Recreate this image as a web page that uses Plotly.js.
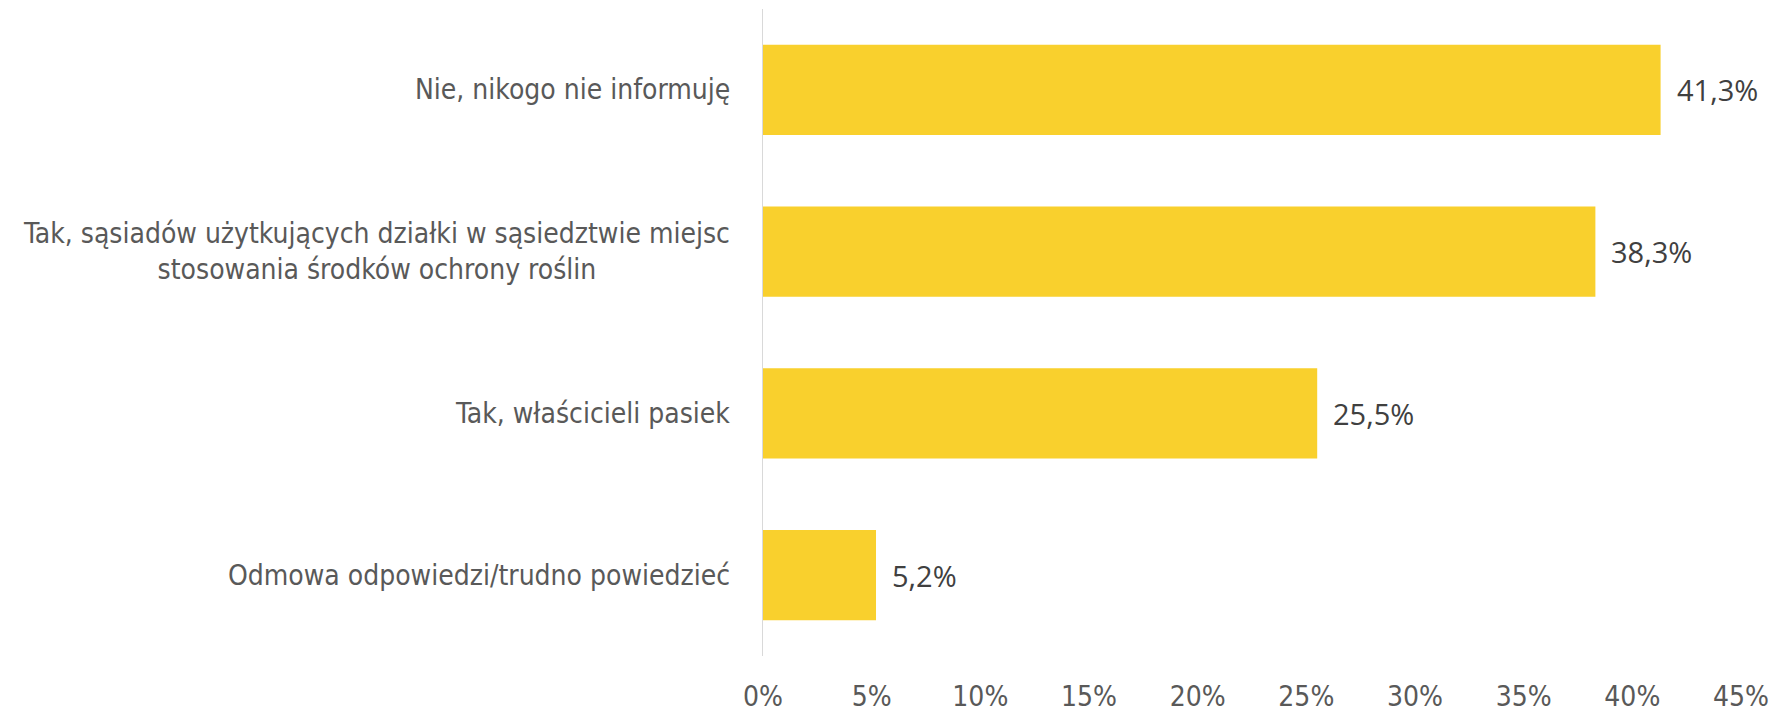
<!DOCTYPE html>
<html>
<head>
<meta charset="utf-8">
<script src="https://cdn.plot.ly/plotly-3.0.1.min.js"></script>
<style>
html,body{margin:0;padding:0;background:#fff;}
#chart{width:1785px;height:712px;}
</style>
</head>
<body>
<div id="chart"></div>
<script>
const categories = [
  "Nie, nikogo nie informuję",
  "Tak, sąsiadów użytkujących działki w sąsiedztwie miejsc<br>stosowania środków ochrony roślin",
  "Tak, właścicieli pasiek",
  "Odmowa odpowiedzi/trudno powiedzieć"
];
const values = [41.3, 38.3, 25.5, 5.2];
const tickValues = [0, 5, 10, 15, 20, 25, 30, 35, 40, 45];
const tickLabels = ["0%", "5%", "10%", "15%", "20%", "25%", "30%", "35%", "40%", "45%"];

const labelFont = {family: "'DejaVu Sans Condensed', 'Liberation Sans', sans-serif", size: 28, color: "#595959"};
const tickFont = {family: "'DejaVu Sans Condensed', 'Liberation Sans', sans-serif", size: 28, color: "#595959"};
const valueFont = {family: "'Open Sans', 'Noto Sans', sans-serif", size: 29, color: "#404040"};

const trace = {
  type: "bar",
  orientation: "h",
  x: values,
  y: categories,
  marker: {color: "#F9D02D", line: {width: 0}},
  hoverinfo: "none"
};

const annotations = [];
categories.forEach((c, i) => {
  annotations.push({
    xref: "paper", yref: "y", x: -0.032, y: c,
    text: c, showarrow: false, xanchor: "right", yanchor: "middle",
    align: "center", font: labelFont
  });
  annotations.push({
    xref: "x", yref: "y", x: values[i], y: c,
    text: values[i].toFixed(1).replace(".", ",") + "%",
    showarrow: false, xanchor: "left", yanchor: "middle", xshift: 14,
    font: valueFont
  });
});

const layout = {
  width: 1785, height: 712,
  margin: {l: 763, r: 44, t: 9, b: 56},
  paper_bgcolor: "#ffffff", plot_bgcolor: "#ffffff",
  showlegend: false,
  bargap: 0.443,
  xaxis: {
    range: [0, 45], tickvals: tickValues, ticktext: tickLabels,
    showgrid: false, zeroline: false, showline: false, ticks: "",
    ticklabelstandoff: 21,
    tickfont: tickFont, fixedrange: true
  },
  yaxis: {
    autorange: "reversed", showticklabels: false, showgrid: false,
    zeroline: false, showline: true, linecolor: "#D9D9D9", linewidth: 1.5,
    ticks: "", fixedrange: true
  },
  annotations: annotations
};

Plotly.newPlot("chart", [trace], layout, {displayModeBar: false, staticPlot: true});
</script>
</body>
</html>
